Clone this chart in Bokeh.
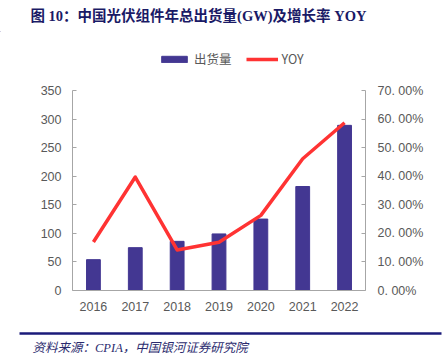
from bokeh.plotting import figure
from bokeh.layouts import column
from bokeh.models import (Range1d, LinearAxis, FixedTicker, CustomJSTickFormatter,
                          Legend, LegendItem, ColumnDataSource, FactorRange, Div)
from bokeh.core.properties import value
from bokeh.embed import file_html
from bokeh.resources import INLINE

years = ["2016", "2017", "2018", "2019", "2020", "2021", "2022"]
shipments = [54, 75, 86, 99, 125, 182, 289]
yoy = [17.0, 39.7, 14.2, 16.9, 26.3, 46.1, 58.7]
left_ticks = [0, 50, 100, 150, 200, 250, 300, 350]
right_ticks = [0, 10, 20, 30, 40, 50, 60, 70]
title_text = "图 10：中国光伏组件年总出货量(GW)及增长率 YOY"
source_text = "资料来源：CPIA，中国银河证券研究院"
bar_label = "出货量"
line_label = "YOY"

W = 445
TTL_H, RULE_H, LEG_H, MAIN_H, FTR_H = 27, 4, 49, 240, 33
BAR_COLOR = "#433792"
LINE_COLOR = "#FF3333"
NAVY = "#1B1B7A"
axis_color = "#A6A6A6"
lab_color = "#595959"
font = "Liberation Sans"


def blank(h):
    f = figure(width=W, height=h, x_range=Range1d(0, W), y_range=Range1d(h, 0),
               output_backend="svg", toolbar_location=None, x_axis_type=None,
               y_axis_type=None, min_border=0, min_border_left=0, min_border_right=0,
               min_border_top=0, min_border_bottom=0, frame_align=False)
    f.outline_line_color = None
    f.grid.grid_line_color = None
    return f

# ---------- title strip ----------
ttl = blank(TTL_H)
ttl.text(x=[30], y=[15.5], text=[title_text],
         text_font=value("Liberation Serif, Noto Sans CJK SC"), text_font_style="bold",
         text_font_size="14.5px", text_color="#1A1A66", text_baseline="middle")

# ---------- rule under the title (plain HTML line) ----------
rule = Div(text=('<div style="margin:1px 0 0 19px;width:422px;height:0;'
                 'border-top:2.5px solid %s;"></div>' % NAVY),
           width=W, height=RULE_H, margin=0, styles={"overflow": "hidden"})

# ---------- legend strip ----------
leg = blank(LEG_H)
# zero-size proxies that only lend their style to the legend swatches
lb = leg.vbar(x=[-100], top=[0], bottom=[0], width=1, fill_color=BAR_COLOR,
              line_color=BAR_COLOR)
ll = leg.line(x=[-100, -90], y=[0, 0], line_color=LINE_COLOR, line_width=3.5)
legend = Legend(items=[LegendItem(label=bar_label, renderers=[lb]),
                       LegendItem(label=line_label, renderers=[ll])],
                orientation="horizontal", location=(158, 12),
                glyph_width=32, glyph_height=8, label_standoff=4, spacing=14,
                padding=0, margin=0, border_line_color=None,
                background_fill_alpha=0, label_text_font="Noto Sans CJK SC",
                label_text_font_size="12.5px", label_text_color=lab_color)
leg.add_layout(legend)

# ---------- main chart ----------
FL, FR = 72, 365
p = figure(width=W, height=MAIN_H, x_range=FactorRange(*years, range_padding=0),
           y_range=Range1d(0, 350), output_backend="svg", toolbar_location=None,
           min_border_left=FL, min_border_right=W - FR, min_border_top=10,
           min_border_bottom=30, frame_align=False)
p.outline_line_color = None
p.grid.grid_line_color = None
p.extra_y_ranges = {"yoy": Range1d(0, 70)}

src = ColumnDataSource(dict(x=years, s=shipments, y=yoy))
p.vbar(x="x", top="s", width=0.33, source=src, fill_color=BAR_COLOR,
       line_color=BAR_COLOR)
p.line(x="x", y="y", source=src, y_range_name="yoy", line_color=LINE_COLOR,
       line_width=3.5, line_join="round")

ya = p.yaxis[0]
ya.ticker = FixedTicker(ticks=left_ticks)
ya.axis_line_color = axis_color
ya.major_tick_line_color = axis_color
ya.major_tick_in = 4
ya.major_tick_out = 0
ya.minor_tick_line_color = None
ya.major_label_text_font = font
ya.major_label_text_font_size = "12.5px"
ya.major_label_text_color = lab_color
ya.major_label_standoff = 11

ra = LinearAxis(y_range_name="yoy", ticker=FixedTicker(ticks=right_ticks),
                formatter=CustomJSTickFormatter(code="return tick.toFixed(2).replace('.', '. ') + '%';"))
ra.axis_line_color = axis_color
ra.major_tick_line_color = axis_color
ra.major_tick_in = 4
ra.major_tick_out = 0
ra.minor_tick_line_color = None
ra.major_label_text_font = font
ra.major_label_text_font_size = "12.5px"
ra.major_label_text_color = lab_color
ra.major_label_standoff = 12
p.add_layout(ra, "right")

xa = p.xaxis[0]
xa.axis_line_color = axis_color
xa.major_tick_line_color = None
xa.minor_tick_line_color = None
xa.major_label_text_font = font
xa.major_label_text_font_size = "12.5px"
xa.major_label_text_color = lab_color
xa.major_label_standoff = 5

# ---------- footer: rule and source ----------
ftr = blank(FTR_H)
ftr.segment(x0=[19], y0=[13], x1=[441], y1=[13], line_color=NAVY, line_width=2.5)
ftr.text(x=[32], y=[27], text=[source_text],
         text_font=value("Liberation Serif, Noto Sans CJK SC"), text_font_style="italic",
         text_font_size="12.5px", text_color="#2B2B6E", text_baseline="middle")

layout = column(ttl, rule, leg, p, ftr, spacing=0)
open("out.html", "w").write(file_html(layout, INLINE))
